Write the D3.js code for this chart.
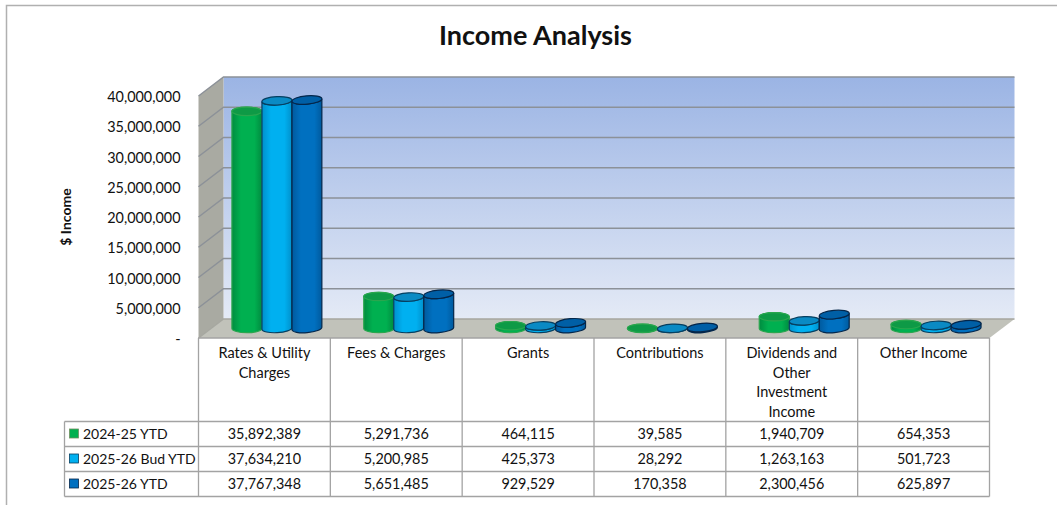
<!DOCTYPE html>
<html>
<head>
<meta charset="utf-8">
<script src="https://cdn.jsdelivr.net/npm/d3@7"></script>
<style>
html, body { margin: 0; padding: 0; background: #fff; }
svg { display: block; }
text { font-family: Lato, "Open Sans", sans-serif; fill: #111; }
</style>
</head>
<body>
<svg id="chart"></svg>
<script>
var categories = ["Rates & Utility Charges", "Fees & Charges", "Grants", "Contributions", "Dividends and Other Investment Income", "Other Income"];
var categoryLines = [["Rates & Utility", "Charges"], ["Fees & Charges"], ["Grants"], ["Contributions"], ["Dividends and", "Other", "Investment", "Income"], ["Other Income"]];
var seriesNames = ["2024-25 YTD", "2025-26 Bud YTD", "2025-26 YTD"];
var ytd2425 = [35892389, 5291736, 464115, 39585, 1940709, 654353];
var bud2526 = [37634210, 5200985, 425373, 28292, 1263163, 501723];
var ytd2526 = [37767348, 5651485, 929529, 170358, 2300456, 625897];
var seriesValues = [ytd2425, bud2526, ytd2526];
var yTicks = [0, 5000000, 10000000, 15000000, 20000000, 25000000, 30000000, 35000000, 40000000];

var sideColors = ["#00b050", "#00b0f0", "#0070c0"];
var edgeColors = ["#008c40", "#0090cc", "#005a9e"];
var topColors = ["#0e9a46", "#0a8ac4", "#005fa6"];
var lineColors = ["#2aa64e", "#063f60", "#04264a"];
var tilts = [0, -3, -5];

var W = 1057, H = 505;
var depthX = 25, depthY = 19;

var svg = d3.select("#chart").attr("width", W).attr("height", H);
var defs = svg.append("defs");

// scales are for the front edge of the box
var x0 = d3.scaleBand().domain(categories).range([198.5, 989.5]);
var y = d3.scaleLinear().domain([0, 40000000]).range([338, 96]);
var barW = 30;
var xInner = d3.scaleBand().domain(seriesNames).range([0, barW * 3]);

var bg = defs.append("linearGradient").attr("id", "wall").attr("x1", 0).attr("x2", 0).attr("y1", 0).attr("y2", 1);
bg.append("stop").attr("offset", "0%").attr("stop-color", "#9bb4e4");
bg.append("stop").attr("offset", "100%").attr("stop-color", "#e4eaf6");

seriesNames.forEach(function(s, i) {
  var g = defs.append("linearGradient").attr("id", "cyl" + i);
  g.append("stop").attr("offset", "0%").attr("stop-color", edgeColors[i]);
  g.append("stop").attr("offset", "30%").attr("stop-color", sideColors[i]);
  g.append("stop").attr("offset", "75%").attr("stop-color", sideColors[i]);
  g.append("stop").attr("offset", "100%").attr("stop-color", edgeColors[i]);
});

// outer border
svg.append("path").attr("d", "M6.5," + H + "V5.5H" + W).attr("fill", "none").attr("stroke", "#b0b0b0").attr("stroke-width", 1.5);

// title
svg.append("text").attr("x", 535.5).attr("y", 45).attr("text-anchor", "middle")
  .attr("font-size", 27).attr("font-weight", 700).attr("fill", "#000").text("Income Analysis");

svg.append("text").attr("transform", "translate(70.5,217) rotate(-90)").attr("text-anchor", "middle")
  .attr("font-size", 14).attr("font-weight", 700).attr("fill", "#000").text("$ Income");

// 3d box
var left = x0.range()[0], right = x0.range()[1];
var base = y(0), top_ = y(40000000);

svg.append("rect").attr("x", left + depthX).attr("y", top_ - depthY)
  .attr("width", right - left).attr("height", base - top_)
  .attr("fill", "url(#wall)");

svg.append("polygon")
  .attr("points", [[left, top_], [left + depthX, top_ - depthY], [left + depthX, base - depthY], [left, base]].join(" "))
  .attr("fill", "#a9aaa2");

svg.append("polygon")
  .attr("points", [[left, base], [left + depthX, base - depthY], [right + depthX, base - depthY], [right, base]].join(" "))
  .attr("fill", "#c1c2ba");

svg.append("g").selectAll("path").data(yTicks).enter().append("path")
  .attr("d", function(d) {
    return "M" + left + "," + y(d) + "L" + (left + depthX) + "," + (y(d) - depthY) + "H" + (right + depthX);
  })
  .attr("fill", "none").attr("stroke", function(d) { return d === 0 ? "#a6a7a0" : "#8c9198"; }).attr("stroke-width", 1.5);

svg.append("line").attr("x1", left).attr("x2", right).attr("y1", base).attr("y2", base)
  .attr("stroke", "#a3a3a3").attr("stroke-width", 1.5);

// y axis labels
var yAxis = d3.axisLeft(y).tickValues(yTicks).tickSize(0).tickPadding(18)
  .tickFormat(function(d) { return d === 0 ? "-" : d3.format(",")(d); });
var yg = svg.append("g").attr("transform", "translate(" + left + ",1)").call(yAxis);
yg.select(".domain").remove();
yg.selectAll("text").attr("font-size", 14.4).style("font-family", "Lato, sans-serif").attr("fill", "#111");

// cylinders
var rx = barW / 2, ry = 4.2;
function cylinder(g, cx, yb, yt, tilt, i) {
  var dx = rx * Math.cos(tilt * Math.PI / 180), dy = rx * Math.sin(tilt * Math.PI / 180);
  var arc = "A" + rx + "," + ry + " " + tilt + " 0 0 ";
  g.append("path")
    .attr("d", "M" + (cx - dx) + "," + (yt - dy) + "L" + (cx - dx) + "," + (yb - dy) + arc + (cx + dx) + "," + (yb + dy) + "L" + (cx + dx) + "," + (yt + dy) + arc.replace("0 0 ", "0 1 ") + (cx - dx) + "," + (yt - dy) + "Z")
    .attr("fill", "url(#cyl" + i + ")").attr("stroke", lineColors[i]).attr("stroke-width", 1.2);
  g.append("ellipse").attr("cx", 0).attr("cy", 0).attr("rx", rx).attr("ry", ry)
    .attr("transform", "translate(" + cx + "," + yt + ") rotate(" + tilt + ")")
    .attr("fill", topColors[i]).attr("stroke", lineColors[i]).attr("stroke-width", 1.2);
}

var barLayer = svg.append("g");
categories.forEach(function(c, ci) {
  var groupLeft = x0(c) + (x0.bandwidth() - barW * 3) / 2 + depthX / 2;
  seriesNames.forEach(function(s, si) {
    var cx = groupLeft + xInner(s) + xInner.bandwidth() / 2;
    cylinder(barLayer.append("g"), cx, y(0) - depthY / 2, y(seriesValues[si][ci]) - depthY / 2, tilts[si], si);
  });
});

// data table
var rowY = d3.scaleBand().domain(seriesNames).range([421.5, 496.5]);
var tableLeft = 64.5;
var tableColor = "#a3a3a3";
var table = svg.append("g");

table.append("g").selectAll("line").data(categories.concat(["end"])).enter().append("line")
  .attr("x1", function(d) { return d === "end" ? right : x0(d); })
  .attr("x2", function(d) { return d === "end" ? right : x0(d); })
  .attr("y1", base).attr("y2", rowY.range()[1])
  .attr("stroke", tableColor).attr("stroke-width", 1.3);

table.append("g").selectAll("line").data(seriesNames.concat(["end"])).enter().append("line")
  .attr("x1", tableLeft).attr("x2", right)
  .attr("y1", function(d) { return d === "end" ? rowY.range()[1] : rowY(d); })
  .attr("y2", function(d) { return d === "end" ? rowY.range()[1] : rowY(d); })
  .attr("stroke", tableColor).attr("stroke-width", 1.3);

table.append("line").attr("x1", tableLeft).attr("x2", tableLeft)
  .attr("y1", rowY.range()[0]).attr("y2", rowY.range()[1])
  .attr("stroke", tableColor).attr("stroke-width", 1.3);

// category headers
var headers = table.append("g").selectAll("text").data(categories).enter().append("text")
  .attr("text-anchor", "middle").attr("font-size", 14.5);
headers.each(function(c, i) {
  d3.select(this).selectAll("tspan").data(categoryLines[i]).enter().append("tspan")
    .attr("x", x0(c) + x0.bandwidth() / 2)
    .attr("y", function(d, j) { return 358 + j * 19.6; })
    .text(function(d) { return d; });
});

// rows
seriesNames.forEach(function(s, si) {
  var cy = rowY(s) + rowY.bandwidth() / 2;
  table.append("rect").attr("x", 69.5).attr("y", cy - 5).attr("width", 9).attr("height", 9)
    .attr("fill", sideColors[si]).attr("stroke", si === 0 ? "#6f8f5f" : lineColors[si]).attr("stroke-width", 0.8);
  table.append("text").attr("x", 83).attr("y", cy + 4.5).attr("font-size", 14).text(s);
  table.append("g").selectAll("text").data(seriesValues[si]).enter().append("text")
    .attr("x", function(d, i) { return x0(categories[i]) + x0.bandwidth() / 2; })
    .attr("y", cy + 5).attr("text-anchor", "middle").attr("font-size", 14.4)
    .text(function(d) { return d3.format(",")(d); });
});
</script>
</body>
</html>
